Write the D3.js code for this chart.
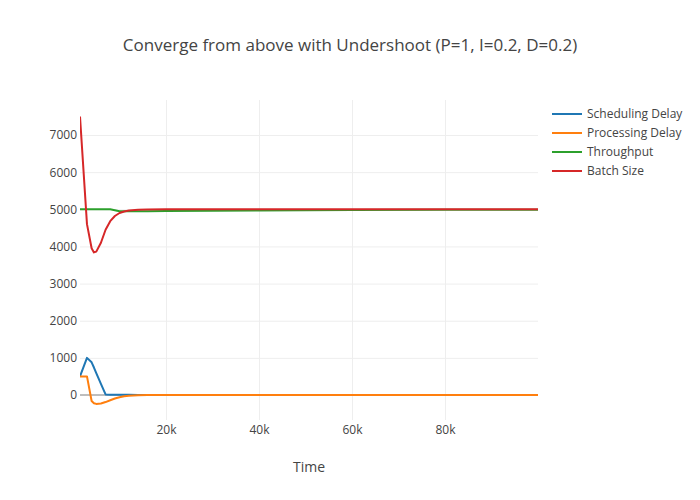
<!DOCTYPE html>
<html lang="en">

<head>
  <meta charset="utf-8">
  <title>Converge from above with Undershoot</title>
  <script src="https://d3js.org/d3.v7.min.js" charset="utf-8"></script>
  <style type="text/css">
    body {
      margin: 0;
      background: #fff;
    }

    text {
      font-family: "Open Sans", sans-serif;
      fill: #444;
    }

    .grid line {
      stroke: #eee;
    }

    .grid path {
      display: none;
    }

    .axis path,
    .axis line {
      display: none;
    }
  </style>
</head>

<body>

  <svg id="chart"></svg>

  <script type="text/javascript">
    const maxWidth = 700;
    const maxHeight = 500;
    const margin = { top: 100, right: 162, bottom: 80, left: 80 };
    const width = maxWidth - margin.left - margin.right;
    const height = maxHeight - margin.top - margin.bottom;

    // values (time in ms)
    const times = [1500, 3000, 4000, 4500, 5000, 6000, 7000, 8000, 9000, 10000, 11000,
      12000, 14000, 16000, 20000, 30000, 40000, 50000, 60000, 80000, 100000];
    const schedulingDelay = [500, 1000, 880, 740, 590, 300, 15, 10, 8, 6, 5,
      4, 3, 2, 0, 0, 0, 0, 0, 0, 0];
    const processingDelay = [500, 500, -160, -220, -240, -230, -190, -140, -95, -60, -35,
      -20, -8, -3, 0, 0, 0, 0, 0, 0, 0];
    const throughput = [5000, 5000, 5000, 5000, 5000, 5000, 5000, 5000, 4975, 4950, 4945,
      4945, 4945, 4948, 4952, 4960, 4968, 4974, 4980, 4985, 4990];
    const batchSize = [7500, 4600, 3950, 3840, 3860, 4100, 4450, 4680, 4820, 4900, 4940,
      4965, 4985, 4995, 5000, 5000, 5000, 5000, 5000, 5000, 5000];

    const seriesNames = ["Scheduling Delay", "Processing Delay", "Throughput", "Batch Size"];
    const seriesColors = ["#1f77b4", "#ff7f0e", "#2ca02c", "#d62728"];
    const seriesValues = [schedulingDelay, processingDelay, throughput, batchSize];

    const xTicks = [20000, 40000, 60000, 80000];
    const yTicks = [0, 1000, 2000, 3000, 4000, 5000, 6000, 7000];

    const svg = d3.select("#chart")
      .attr("width", maxWidth)
      .attr("height", maxHeight);

    const chart = svg.append("g")
      .attr("transform", `translate(${margin.left}, ${margin.top})`);

    const xScale = d3.scaleLinear()
      .domain([1500, 100000])
      .range([0, width]);

    const yScale = d3.scaleLinear()
      .domain([-673, 7943])
      .range([height, 0]);

    // grid
    chart.append("g")
      .attr("class", "grid")
      .call(d3.axisBottom(xScale).tickValues(xTicks).tickSize(height).tickFormat(""));

    chart.append("g")
      .attr("class", "grid")
      .call(d3.axisLeft(yScale).tickValues(yTicks.filter(d => d !== 0)).tickSize(-width).tickFormat(""));

    // zero line
    chart.append("line")
      .attr("x1", 0)
      .attr("x2", width)
      .attr("y1", yScale(0))
      .attr("y2", yScale(0))
      .attr("stroke", "#444")
      .attr("stroke-opacity", 0.7)
      .attr("stroke-width", 1);

    // axes
    chart.append("g")
      .attr("class", "axis")
      .attr("transform", `translate(0, ${height})`)
      .call(d3.axisBottom(xScale).tickValues(xTicks).tickSize(0).tickPadding(5)
        .tickFormat(d => (d / 1000) + "k"))
      .selectAll("text")
      .attr("font-size", 12);

    chart.append("g")
      .attr("class", "axis")
      .call(d3.axisLeft(yScale).tickValues(yTicks).tickSize(0).tickPadding(3)
        .tickFormat(d3.format("d")))
      .selectAll("text")
      .attr("font-size", 12);

    // lines
    const line = d3.line()
      .x((d, i) => xScale(times[i]))
      .y(d => yScale(d));

    chart.append("clipPath").attr("id", "clip")
      .append("rect")
      .attr("width", width)
      .attr("height", height);

    chart.selectAll(".series")
      .data(seriesValues)
      .enter()
      .append("path")
      .attr("class", "series")
      .attr("clip-path", "url(#clip)")
      .attr("d", d => line(d))
      .attr("fill", "none")
      .attr("stroke", (d, i) => seriesColors[i])
      .attr("stroke-width", 2)
      .attr("stroke-linejoin", "round");

    // title
    svg.append("text")
      .attr("x", maxWidth / 2)
      .attr("y", 51)
      .attr("text-anchor", "middle")
      .attr("font-size", 17)
      .text("Converge from above with Undershoot (P=1, I=0.2, D=0.2)");

    svg.append("text")
      .attr("x", margin.left + width / 2)
      .attr("y", 472)
      .attr("text-anchor", "middle")
      .attr("font-size", 14)
      .text("Time");

    // legend
    const legend = svg.append("g")
      .attr("transform", "translate(552, 114)");

    const item = legend.selectAll("g")
      .data(seriesNames)
      .enter()
      .append("g")
      .attr("transform", (d, i) => `translate(0, ${i * 19})`);

    item.append("line")
      .attr("x1", 0)
      .attr("x2", 30)
      .attr("stroke", (d, i) => seriesColors[i])
      .attr("stroke-width", 2);

    item.append("text")
      .attr("x", 35)
      .attr("dy", "0.35em")
      .attr("font-size", 12)
      .text(d => d);
  </script>
</body>

</html>
